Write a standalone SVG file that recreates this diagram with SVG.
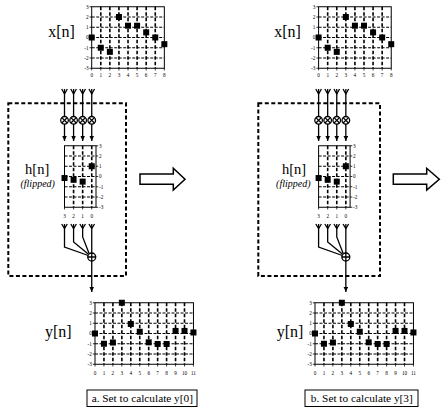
<svg xmlns="http://www.w3.org/2000/svg" width="446" height="408" viewBox="0 0 446 408">
<style>
.fr{fill:none;stroke:#000;stroke-width:1}
.gv{stroke:#000;stroke-width:1.6;stroke-dasharray:3.5 2;fill:none}
.gh{stroke:#000;stroke-width:1.2;stroke-dasharray:3 1.5;fill:none}
.tk{stroke:#000;stroke-width:0.8;fill:none}
.pt{fill:#000}
.num{font-family:"Liberation Serif",serif;font-size:5.2px;fill:#000}
.ye{text-anchor:end}
.ys{text-anchor:start}
.xm{text-anchor:middle}
.lbl{font-family:"Liberation Serif",serif;font-size:16px;fill:#000;text-anchor:middle}
.lh{font-family:"Liberation Serif",serif;font-size:14.5px;fill:#000;text-anchor:middle}
.flp{font-family:"Liberation Serif",serif;font-size:10px;font-style:italic;fill:#000;text-anchor:middle}
.cap{font-family:"Liberation Serif",serif;font-size:11.3px;fill:#000;text-anchor:middle}
.box{fill:none;stroke:#000;stroke-width:2;stroke-dasharray:4 2.5}
.ln{fill:none;stroke:#000;stroke-width:1.3}
.op{fill:#fff;stroke:#000;stroke-width:1.3}
.big{fill:#fff;stroke:#000;stroke-width:1.5}
.cb{fill:#fff;stroke:#000;stroke-width:1}
</style>
<defs>
<marker id="ah" markerWidth="5" markerHeight="5" refX="5" refY="2.25" orient="auto" markerUnits="userSpaceOnUse"><path d="M0,0 L5,2.25 L0,4.5 z" fill="#000"/></marker>
</defs>

<!-- dashed system boxes -->
<g id="box-a"><rect class="box" x="8.3" y="103.3" width="117.7" height="172.7"/></g>
<g id="box-b"><rect class="box" x="258.3" y="103.3" width="121.7" height="172.7"/></g>

<!-- connectors -->
<g id="connectors">
 <g id="conn-a">
  <path class="ln" d="M61.7,89 L64.5,94 L67.3,89 M70.78,89 L73.58,94 L76.38,89 M79.86,89 L82.66,94 L85.46,89 M88.94,89 L91.74,94 L94.54,89"/>
  <path class="ln" marker-end="url(#ah)" d="M64.5,89 V141"/>
  <path class="ln" marker-end="url(#ah)" d="M73.58,89 V141"/>
  <path class="ln" marker-end="url(#ah)" d="M82.66,89 V141"/>
  <path class="ln" marker-end="url(#ah)" d="M91.74,89 V141"/>
  <path class="ln" d="M61.7,224 L64.5,228.5 L67.3,224 M70.78,224 L73.58,228.5 L76.38,224 M79.86,224 L82.66,228.5 L85.46,224 M88.94,224 L91.74,228.5 L94.54,224"/>
  <path class="ln" d="M64.5,224 V247 L88.3,255.5"/>
  <path class="ln" d="M73.58,224 V242 L88.5,254.3"/>
  <path class="ln" d="M82.66,224 V237 L89,253.2"/>
  <path class="ln" d="M91.74,224 V253"/>
  <path class="ln" marker-end="url(#ah)" d="M91.74,261 V292"/>
 </g>
 <g id="conn-b" transform="translate(254.1,0)">
  <path class="ln" d="M61.7,89 L64.5,94 L67.3,89 M70.78,89 L73.58,94 L76.38,89 M79.86,89 L82.66,94 L85.46,89 M88.94,89 L91.74,94 L94.54,89"/>
  <path class="ln" marker-end="url(#ah)" d="M64.5,89 V141"/>
  <path class="ln" marker-end="url(#ah)" d="M73.58,89 V141"/>
  <path class="ln" marker-end="url(#ah)" d="M82.66,89 V141"/>
  <path class="ln" marker-end="url(#ah)" d="M91.74,89 V141"/>
  <path class="ln" d="M61.7,224 L64.5,228.5 L67.3,224 M70.78,224 L73.58,228.5 L76.38,224 M79.86,224 L82.66,228.5 L85.46,224 M88.94,224 L91.74,228.5 L94.54,224"/>
  <path class="ln" d="M64.5,224 V247 L88.3,255.5"/>
  <path class="ln" d="M73.58,224 V242 L88.5,254.3"/>
  <path class="ln" d="M82.66,224 V237 L89,253.2"/>
  <path class="ln" d="M91.74,224 V253"/>
  <path class="ln" marker-end="url(#ah)" d="M91.74,261 V292"/>
 </g>
</g>

<!-- multipliers -->
<g id="mult-a">
 <g><circle class="op" cx="64.5" cy="120.3" r="3.8"/><path class="ln" d="M61.8,117.6 L67.2,123 M67.2,117.6 L61.8,123"/></g>
 <g><circle class="op" cx="73.58" cy="120.3" r="3.8"/><path class="ln" d="M70.88,117.6 L76.28,123 M76.28,117.6 L70.88,123"/></g>
 <g><circle class="op" cx="82.66" cy="120.3" r="3.8"/><path class="ln" d="M79.96,117.6 L85.36,123 M85.36,117.6 L79.96,123"/></g>
 <g><circle class="op" cx="91.74" cy="120.3" r="3.8"/><path class="ln" d="M89.04,117.6 L94.44,123 M94.44,117.6 L89.04,123"/></g>
</g>
<g id="mult-b" transform="translate(254.1,0)">
 <g><circle class="op" cx="64.5" cy="120.3" r="3.8"/><path class="ln" d="M61.8,117.6 L67.2,123 M67.2,117.6 L61.8,123"/></g>
 <g><circle class="op" cx="73.58" cy="120.3" r="3.8"/><path class="ln" d="M70.88,117.6 L76.28,123 M76.28,117.6 L70.88,123"/></g>
 <g><circle class="op" cx="82.66" cy="120.3" r="3.8"/><path class="ln" d="M79.96,117.6 L85.36,123 M85.36,117.6 L79.96,123"/></g>
 <g><circle class="op" cx="91.74" cy="120.3" r="3.8"/><path class="ln" d="M89.04,117.6 L94.44,123 M94.44,117.6 L89.04,123"/></g>
</g>

<!-- summers -->
<g id="sum-a"><circle class="op" cx="91.74" cy="257" r="4"/><path class="ln" d="M87.74,257 H95.74 M91.74,253 V261"/></g>
<g id="sum-b" transform="translate(254.1,0)"><circle class="op" cx="91.74" cy="257" r="4"/><path class="ln" d="M87.74,257 H95.74 M91.74,253 V261"/></g>

<!-- labels -->
<g id="label-x-a"><text class="lbl" x="61.5" y="37">x[n]</text></g>
<g id="label-x-b"><text class="lbl" x="287.5" y="37">x[n]</text></g>
<g id="label-h-a"><text class="lh" x="37.2" y="174">h[n]</text><text class="flp" x="37.7" y="187">(flipped)</text></g>
<g id="label-h-b"><text class="lh" x="294" y="174">h[n]</text><text class="flp" x="293.3" y="187">(flipped)</text></g>
<g id="label-y-a"><text class="lbl" x="58.3" y="337">y[n]</text></g>
<g id="label-y-b"><text class="lbl" x="290" y="337">y[n]</text></g>

<!-- x[n] graphs -->
<g id="xgraph-a" transform="translate(91.7,37.5)">
 <path class="gv" d="M9.08,-30.75V30.75M18.16,-30.75V30.75M27.24,-30.75V30.75M36.32,-30.75V30.75M45.4,-30.75V30.75M54.48,-30.75V30.75M63.56,-30.75V30.75"/>
 <path class="gh" d="M0,-20.5H72.64M0,-10.25H72.64M0,0H72.64M0,10.25H72.64M0,20.5H72.64"/>
 <rect class="fr" x="0" y="-30.75" width="72.64" height="61.5"/>
 <path class="tk" d="M-2.2,-30.75H0M-2.2,-20.5H0M-2.2,-10.25H0M-2.2,0H0M-2.2,10.25H0M-2.2,20.5H0M-2.2,30.75H0M0,30.75v2.2M9.08,30.75v2.2M18.16,30.75v2.2M27.24,30.75v2.2M36.32,30.75v2.2M45.4,30.75v2.2M54.48,30.75v2.2M63.56,30.75v2.2M72.64,30.75v2.2"/>
 <g class="num ye"><text x="-3.2" y="-28.95">3</text><text x="-3.2" y="-18.7">2</text><text x="-3.2" y="-8.45">1</text><text x="-3.2" y="1.8">0</text><text x="-3.2" y="12.05">-1</text><text x="-3.2" y="22.3">-2</text><text x="-3.2" y="32.55">-3</text></g>
 <g class="num xm"><text x="0" y="39.5">0</text><text x="9.08" y="39.5">1</text><text x="18.16" y="39.5">2</text><text x="27.24" y="39.5">3</text><text x="36.32" y="39.5">4</text><text x="45.4" y="39.5">5</text><text x="54.48" y="39.5">6</text><text x="63.56" y="39.5">7</text><text x="72.64" y="39.5">8</text></g>
 <g class="pt"><rect x="-3" y="-3" width="6" height="6"/><rect x="6.08" y="7.25" width="6" height="6"/><rect x="15.16" y="11.35" width="6" height="6"/><rect x="24.24" y="-23.5" width="6" height="6"/><rect x="33.32" y="-14.79" width="6" height="6"/><rect x="42.4" y="-14.79" width="6" height="6"/><rect x="51.48" y="-8.13" width="6" height="6"/><rect x="60.56" y="-3" width="6" height="6"/><rect x="69.64" y="3.66" width="6" height="6"/></g>
</g>
<g id="xgraph-b" transform="translate(318.6,37.5)">
 <path class="gv" d="M9.08,-30.75V30.75M18.16,-30.75V30.75M27.24,-30.75V30.75M36.32,-30.75V30.75M45.4,-30.75V30.75M54.48,-30.75V30.75M63.56,-30.75V30.75"/>
 <path class="gh" d="M0,-20.5H72.64M0,-10.25H72.64M0,0H72.64M0,10.25H72.64M0,20.5H72.64"/>
 <rect class="fr" x="0" y="-30.75" width="72.64" height="61.5"/>
 <path class="tk" d="M-2.2,-30.75H0M-2.2,-20.5H0M-2.2,-10.25H0M-2.2,0H0M-2.2,10.25H0M-2.2,20.5H0M-2.2,30.75H0M0,30.75v2.2M9.08,30.75v2.2M18.16,30.75v2.2M27.24,30.75v2.2M36.32,30.75v2.2M45.4,30.75v2.2M54.48,30.75v2.2M63.56,30.75v2.2M72.64,30.75v2.2"/>
 <g class="num ye"><text x="-3.2" y="-28.95">3</text><text x="-3.2" y="-18.7">2</text><text x="-3.2" y="-8.45">1</text><text x="-3.2" y="1.8">0</text><text x="-3.2" y="12.05">-1</text><text x="-3.2" y="22.3">-2</text><text x="-3.2" y="32.55">-3</text></g>
 <g class="num xm"><text x="0" y="39.5">0</text><text x="9.08" y="39.5">1</text><text x="18.16" y="39.5">2</text><text x="27.24" y="39.5">3</text><text x="36.32" y="39.5">4</text><text x="45.4" y="39.5">5</text><text x="54.48" y="39.5">6</text><text x="63.56" y="39.5">7</text><text x="72.64" y="39.5">8</text></g>
 <g class="pt"><rect x="-3" y="-3" width="6" height="6"/><rect x="6.08" y="7.25" width="6" height="6"/><rect x="15.16" y="11.35" width="6" height="6"/><rect x="24.24" y="-23.5" width="6" height="6"/><rect x="33.32" y="-14.79" width="6" height="6"/><rect x="42.4" y="-14.79" width="6" height="6"/><rect x="51.48" y="-8.13" width="6" height="6"/><rect x="60.56" y="-3" width="6" height="6"/><rect x="69.64" y="3.66" width="6" height="6"/></g>
</g>

<!-- h[n] graphs -->
<g id="hgraph-a" transform="translate(64.5,176.5)">
 <path class="gv" d="M9.08,-30.75V30.75M18.16,-30.75V30.75M27.24,-30.75V30.75"/>
 <path class="gh" d="M0,-20.5H31.5M0,-10.25H31.5M0,0H31.5M0,10.25H31.5M0,20.5H31.5"/>
 <rect class="fr" x="0" y="-30.75" width="31.5" height="61.5"/>
 <path class="tk" d="M31.5,-30.75h2.2M31.5,-20.5h2.2M31.5,-10.25h2.2M31.5,0h2.2M31.5,10.25h2.2M31.5,20.5h2.2M31.5,30.75h2.2M0,30.75v2.2M9.08,30.75v2.2M18.16,30.75v2.2M27.24,30.75v2.2"/>
 <g class="num ys"><text x="34.5" y="-28.95">3</text><text x="34.5" y="-18.7">2</text><text x="34.5" y="-8.45">1</text><text x="34.5" y="1.8">0</text><text x="34.5" y="12.05">-1</text><text x="34.5" y="22.3">-2</text><text x="34.5" y="32.55">-3</text></g>
 <g class="num xm"><text x="0" y="41.5">3</text><text x="9.08" y="41.5">2</text><text x="18.16" y="41.5">1</text><text x="27.24" y="41.5">0</text></g>
 <g class="pt"><rect x="-3" y="-1.46" width="6" height="6"/><rect x="6.08" y="0.28" width="6" height="6"/><rect x="15.16" y="2.13" width="6" height="6"/><rect x="24.24" y="-13.25" width="6" height="6"/></g>
</g>
<g id="hgraph-b" transform="translate(318.6,176.5)">
 <path class="gv" d="M9.08,-30.75V30.75M18.16,-30.75V30.75M27.24,-30.75V30.75"/>
 <path class="gh" d="M0,-20.5H31.5M0,-10.25H31.5M0,0H31.5M0,10.25H31.5M0,20.5H31.5"/>
 <rect class="fr" x="0" y="-30.75" width="31.5" height="61.5"/>
 <path class="tk" d="M31.5,-30.75h2.2M31.5,-20.5h2.2M31.5,-10.25h2.2M31.5,0h2.2M31.5,10.25h2.2M31.5,20.5h2.2M31.5,30.75h2.2M0,30.75v2.2M9.08,30.75v2.2M18.16,30.75v2.2M27.24,30.75v2.2"/>
 <g class="num ys"><text x="34.5" y="-28.95">3</text><text x="34.5" y="-18.7">2</text><text x="34.5" y="-8.45">1</text><text x="34.5" y="1.8">0</text><text x="34.5" y="12.05">-1</text><text x="34.5" y="22.3">-2</text><text x="34.5" y="32.55">-3</text></g>
 <g class="num xm"><text x="0" y="41.5">3</text><text x="9.08" y="41.5">2</text><text x="18.16" y="41.5">1</text><text x="27.24" y="41.5">0</text></g>
 <g class="pt"><rect x="-3" y="-1.46" width="6" height="6"/><rect x="6.08" y="0.28" width="6" height="6"/><rect x="15.16" y="2.13" width="6" height="6"/><rect x="24.24" y="-13.25" width="6" height="6"/></g>
</g>

<!-- y[n] graphs -->
<g id="ygraph-a" transform="translate(95,333.5)">
 <path class="gv" d="M8.95,-30.75V30.75M17.9,-30.75V30.75M26.85,-30.75V30.75M35.8,-30.75V30.75M44.75,-30.75V30.75M53.7,-30.75V30.75M62.65,-30.75V30.75M71.6,-30.75V30.75M80.55,-30.75V30.75M89.5,-30.75V30.75"/>
 <path class="gh" d="M0,-20.5H98.45M0,-10.25H98.45M0,0H98.45M0,10.25H98.45M0,20.5H98.45"/>
 <rect class="fr" x="0" y="-30.75" width="98.45" height="61.5"/>
 <path class="tk" d="M-2.2,-30.75H0M-2.2,-20.5H0M-2.2,-10.25H0M-2.2,0H0M-2.2,10.25H0M-2.2,20.5H0M-2.2,30.75H0M0,30.75v2.2M8.95,30.75v2.2M17.9,30.75v2.2M26.85,30.75v2.2M35.8,30.75v2.2M44.75,30.75v2.2M53.7,30.75v2.2M62.65,30.75v2.2M71.6,30.75v2.2M80.55,30.75v2.2M89.5,30.75v2.2M98.45,30.75v2.2"/>
 <g class="num ye"><text x="-3.2" y="-28.95">3</text><text x="-3.2" y="-18.7">2</text><text x="-3.2" y="-8.45">1</text><text x="-3.2" y="1.8">0</text><text x="-3.2" y="12.05">-1</text><text x="-3.2" y="22.3">-2</text><text x="-3.2" y="32.55">-3</text></g>
 <g class="num xm"><text x="0" y="41.5">0</text><text x="8.95" y="41.5">1</text><text x="17.9" y="41.5">2</text><text x="26.85" y="41.5">3</text><text x="35.8" y="41.5">4</text><text x="44.75" y="41.5">5</text><text x="53.7" y="41.5">6</text><text x="62.65" y="41.5">7</text><text x="71.6" y="41.5">8</text><text x="80.55" y="41.5">9</text><text x="89.5" y="41.5">10</text><text x="98.45" y="41.5">11</text></g>
 <g class="pt"><rect x="-3" y="-3" width="6" height="6"/><rect x="5.95" y="7.25" width="6" height="6"/><rect x="14.9" y="6.02" width="6" height="6"/><rect x="23.85" y="-33.75" width="6" height="6"/><rect x="32.8" y="-12.53" width="6" height="6"/><rect x="41.75" y="-4.74" width="6" height="6"/><rect x="50.7" y="5.82" width="6" height="6"/><rect x="59.65" y="7.46" width="6" height="6"/><rect x="68.6" y="7.46" width="6" height="6"/><rect x="77.55" y="-5.56" width="6" height="6"/><rect x="86.5" y="-5.56" width="6" height="6"/><rect x="95.45" y="-4.03" width="6" height="6"/></g>
</g>
<g id="ygraph-b" transform="translate(315,333.5)">
 <path class="gv" d="M8.95,-30.75V30.75M17.9,-30.75V30.75M26.85,-30.75V30.75M35.8,-30.75V30.75M44.75,-30.75V30.75M53.7,-30.75V30.75M62.65,-30.75V30.75M71.6,-30.75V30.75M80.55,-30.75V30.75M89.5,-30.75V30.75"/>
 <path class="gh" d="M0,-20.5H98.45M0,-10.25H98.45M0,0H98.45M0,10.25H98.45M0,20.5H98.45"/>
 <rect class="fr" x="0" y="-30.75" width="98.45" height="61.5"/>
 <path class="tk" d="M-2.2,-30.75H0M-2.2,-20.5H0M-2.2,-10.25H0M-2.2,0H0M-2.2,10.25H0M-2.2,20.5H0M-2.2,30.75H0M0,30.75v2.2M8.95,30.75v2.2M17.9,30.75v2.2M26.85,30.75v2.2M35.8,30.75v2.2M44.75,30.75v2.2M53.7,30.75v2.2M62.65,30.75v2.2M71.6,30.75v2.2M80.55,30.75v2.2M89.5,30.75v2.2M98.45,30.75v2.2"/>
 <g class="num ye"><text x="-3.2" y="-28.95">3</text><text x="-3.2" y="-18.7">2</text><text x="-3.2" y="-8.45">1</text><text x="-3.2" y="1.8">0</text><text x="-3.2" y="12.05">-1</text><text x="-3.2" y="22.3">-2</text><text x="-3.2" y="32.55">-3</text></g>
 <g class="num xm"><text x="0" y="41.5">0</text><text x="8.95" y="41.5">1</text><text x="17.9" y="41.5">2</text><text x="26.85" y="41.5">3</text><text x="35.8" y="41.5">4</text><text x="44.75" y="41.5">5</text><text x="53.7" y="41.5">6</text><text x="62.65" y="41.5">7</text><text x="71.6" y="41.5">8</text><text x="80.55" y="41.5">9</text><text x="89.5" y="41.5">10</text><text x="98.45" y="41.5">11</text></g>
 <g class="pt"><rect x="-3" y="-3" width="6" height="6"/><rect x="5.95" y="7.25" width="6" height="6"/><rect x="14.9" y="6.02" width="6" height="6"/><rect x="23.85" y="-33.75" width="6" height="6"/><rect x="32.8" y="-12.53" width="6" height="6"/><rect x="41.75" y="-4.74" width="6" height="6"/><rect x="50.7" y="5.82" width="6" height="6"/><rect x="59.65" y="7.46" width="6" height="6"/><rect x="68.6" y="7.46" width="6" height="6"/><rect x="77.55" y="-5.56" width="6" height="6"/><rect x="86.5" y="-5.56" width="6" height="6"/><rect x="95.45" y="-4.03" width="6" height="6"/></g>
</g>

<!-- hollow arrows -->
<g id="arrow-a"><path class="big" d="M140,174 L173.3,174 L173.3,168.3 L185,179.2 L173.3,190 L173.3,184.3 L140,184.3 Z"/></g>
<g id="arrow-b"><path class="big" d="M393.3,174 L426.7,174 L426.7,168.3 L439.3,179.2 L426.7,190 L426.7,184.3 L393.3,184.3 Z"/></g>

<!-- captions -->
<g id="caption-a"><rect class="cb" x="87" y="390" width="110" height="16.5"/><text class="cap" x="142.3" y="402">a. Set to calculate y[0]</text></g>
<g id="caption-b"><rect class="cb" x="305" y="390" width="113" height="16.5"/><text class="cap" x="361.8" y="402">b. Set to calculate y[3]</text></g>
</svg>
